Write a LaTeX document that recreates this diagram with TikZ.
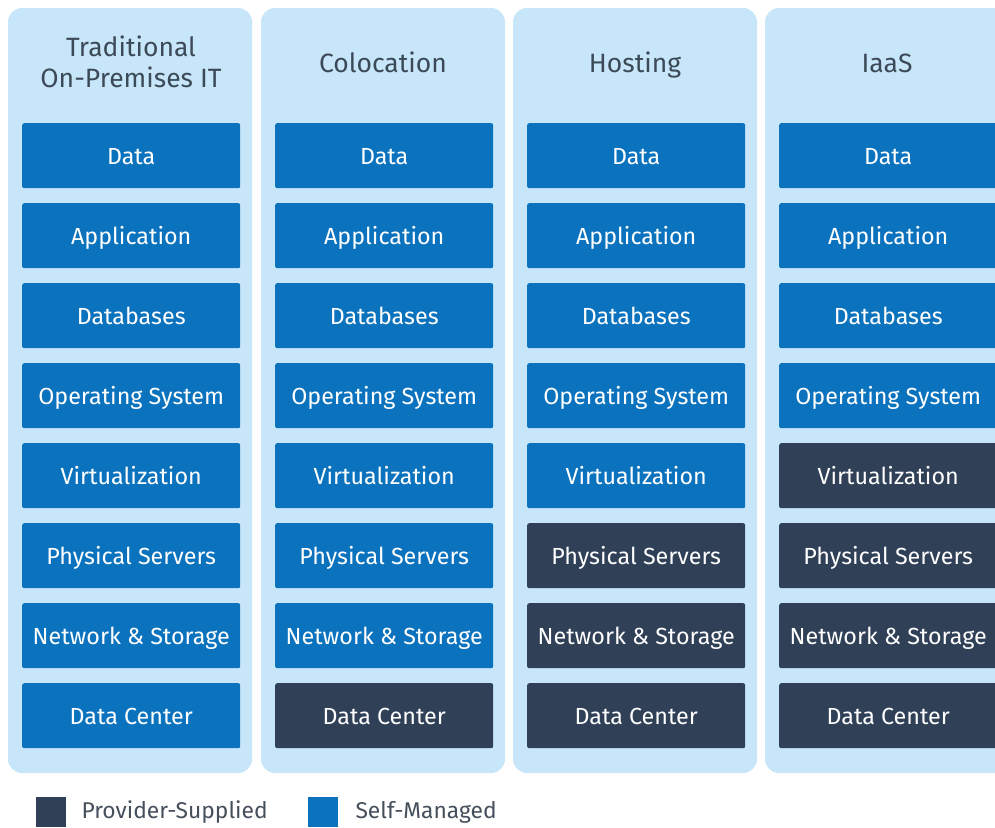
\documentclass[tikz,border=0pt]{standalone}
\usepackage{fontspec}
\setmainfont{Fira Sans}
\definecolor{panelc}{RGB}{200,230,250}
\definecolor{selfc}{RGB}{11,114,190}
\definecolor{provc}{RGB}{47,64,87}
\definecolor{titlec}{RGB}{60,74,88}
\definecolor{legc}{RGB}{70,80,92}
\begin{document}
\begin{tikzpicture}[x=1pt,y=-1pt,
  panel/.style={fill=panelc,draw=none,rounded corners=14pt},
  layer/.style={draw=none,rounded corners=2pt,minimum width=218pt,minimum height=65pt,anchor=north west,inner sep=0pt,text=white,text height=19pt,text depth=1pt,font=\fontsize{23.3}{26}\selectfont},
  selfbox/.style={layer,fill=selfc},
  provbox/.style={layer,fill=provc},
  title/.style={text=titlec,anchor=base,font=\fontsize{26.5}{31}\selectfont},
  legsq/.style={minimum width=30pt,minimum height=30pt,inner sep=0pt,anchor=north west},
  legtext/.style={text=legc,anchor=base west,font=\fontsize{22.8}{26}\selectfont}]
\useasboundingbox (0,0) rectangle (995,827);
\begin{scope}
\clip (0,0) rectangle (995,827);
\fill[white] (0,0) rectangle (995,827);
\foreach \i/\px in {1/8,2/261,3/513,4/765}{
  \path[panel] (\px,8) rectangle ++(244,765);
}
% titles
\node[title] (t1a) at (131,56) {Traditional};
\node[title] (t1b) at (131,87) {On-Premises IT};
\node[title] (t2) at (383,72) {Colocation};
\node[title] (t3) at (635,72) {Hosting};
\node[title] (t4) at (887,72) {IaaS};
% columns of layers
\foreach \c/\bx/\nprov in {1/22/9,2/275/8,3/527/6,4/779/5}{
  \foreach \r/\lab in {1/Data,2/Application,3/Databases,4/Operating System,5/Virtualization,6/Physical Servers,7/Network \& Storage,8/Data Center}{
    \pgfmathtruncatemacro{\isprov}{\r>=\nprov ? 1 : 0}
    \ifnum\isprov=1
      \node[provbox] (b\c-\r) at (\bx,{123+(\r-1)*80}) {\lab};
    \else
      \node[selfbox] (b\c-\r) at (\bx,{123+(\r-1)*80}) {\lab};
    \fi
  }
}
% legend
\node[legsq,fill=provc] (lp) at (36,797) {};
\node[legtext] (lpt) at (78,818) {Provider-Supplied};
\node[legsq,fill=selfc] (ls) at (308,797) {};
\node[legtext] (lst) at (352,818) {Self-Managed};
\end{scope}
\end{tikzpicture}
\end{document}
